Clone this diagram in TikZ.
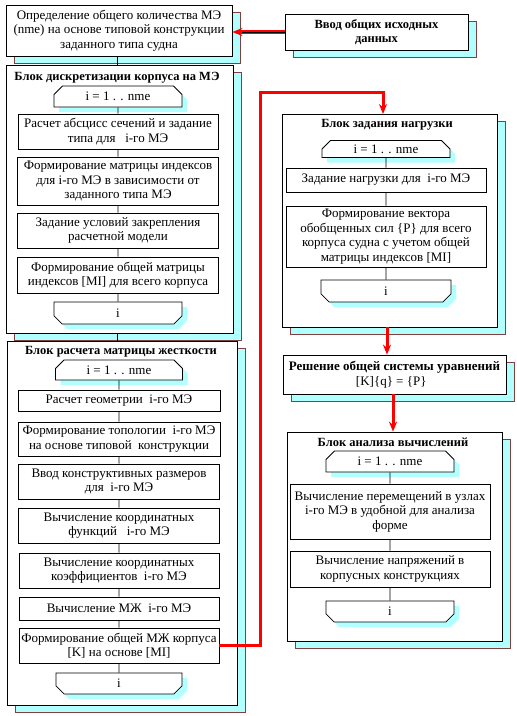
\documentclass[tikz,border=0pt]{standalone}
\usepackage{fontspec}
\setmainfont{Liberation Serif}
\usetikzlibrary{arrows.meta,shapes.misc,shadows}
\definecolor{ShadeClr}{rgb}{0.7,1,1}
\definecolor{ShadeBrd}{rgb}{0.5,0.25,0.25}
\definecolor{FlowClr}{rgb}{1,0,0}

\begin{document}
\begin{tikzpicture}[x=1pt,y=-1pt,
  every node/.style={font=\fontsize{13}{14.5}\selectfont,align=center,inner sep=1pt},
  shbox/.style={draw,fill=white,line width=0.8pt,
    drop shadow={shadow xshift=8pt,shadow yshift=-7pt,fill=ShadeClr,draw=ShadeBrd,opacity=1}},
  opbox/.style={draw,fill=white,line width=0.8pt},
  loopbeg/.style={chamfered rectangle,chamfered rectangle corners={north west,north east},
    chamfered rectangle xsep=8pt,draw,fill=white,line width=0.8pt,
    drop shadow={shadow xshift=5pt,shadow yshift=-5pt,fill=ShadeClr,opacity=1}},
  loopend/.style={loopbeg,chamfered rectangle corners={south west,south east}},
  ttl/.style={font=\fontsize{12.5}{14.5}\selectfont\bfseries},
  conn/.style={line width=0.8pt},
  flow/.style={draw=FlowClr,line width=3pt,-{Stealth[length=10pt,width=8pt]}}]
\useasboundingbox (0,0) rectangle (517,716);

% top boxes
\node[shbox,minimum width=226,minimum height=51] (opr) at (119,30.5)
  {Определение общего количества МЭ\\(nme) на основе типовой конструкции\\заданного типа судна};
\node[shbox,ttl,minimum width=183,minimum height=36] (vvod) at (376.5,32)
  {Ввод общих исходных\\данных};

% block 1
\node[shbox,minimum width=227,minimum height=268] (blk1) at (119.5,199) {};
\node[ttl] (blk1t) at (117,78) {Блок дискретизации корпуса на МЭ};
\node[loopbeg,minimum width=128,minimum height=21] (ls1) at (118,96.5) {i = 1 . . nme};
\node[opbox,minimum width=200,minimum height=35] (b11) at (118,131.5)
  {Расчет абсцисс сечений и задание\\типа для~~~i-го МЭ};
\node[opbox,minimum width=201,minimum height=48] (b12) at (118,181)
  {Формирование матрицы индексов\\для i-го МЭ в зависимости от\\заданного типа МЭ};
\node[opbox,minimum width=201,minimum height=35] (b13) at (118,230.5)
  {Задание условий закрепления\\расчетной модели};
\node[opbox,minimum width=201,minimum height=36] (b14) at (118,275)
  {Формирование общей матрицы\\индексов [МI] для всего корпуса};
\node[loopend,minimum width=128,minimum height=22] (le1) at (118,313) {i};
\draw[conn] (ls1) -- (b11) -- (b12) -- (b13) -- (b14) -- (le1);

% block 2
\node[shbox,minimum width=230,minimum height=364] (blk2) at (122,523) {};
\node[ttl] (blk2t) at (121,352) {Блок расчета матрицы жесткости};
\node[loopbeg,minimum width=127,minimum height=20] (ls2) at (119,370) {i = 1 . . nme};
\node[opbox,minimum width=202,minimum height=21] (b21) at (119,400.5)
  {Расчет геометрии~~i-го МЭ};
\node[opbox,minimum width=202,minimum height=34] (b22) at (119,439)
  {Формирование топологии~~i-го МЭ\\на основе типовой~~конструкции};
\node[opbox,minimum width=201,minimum height=35] (b23) at (119,481.5)
  {Ввод конструктивных размеров\\для~~i-го МЭ};
\node[opbox,minimum width=201,minimum height=35] (b24) at (119,525.5)
  {Вычисление координатных\\функций~~~i-го МЭ};
\node[opbox,minimum width=200,minimum height=35] (b25) at (119,570.5)
  {Вычисление координатных\\коэффициентов~~i-го МЭ};
\node[opbox,minimum width=200,minimum height=23] (b26) at (119,608.5)
  {Вычисление МЖ~~i-го МЭ};
\node[opbox,minimum width=200,minimum height=35] (b27) at (119,645.5)
  {Формирование общей МЖ корпуса\\{}[K] на основе [МI]};
\node[loopend,minimum width=126,minimum height=21] (le2) at (119,683.5) {i};
\draw[conn] (ls2) -- (b21) -- (b22) -- (b23) -- (b24) -- (b25) -- (b26) -- (b27) -- (le2);

\draw[conn] (opr.south -| blk1t) -- (blk1.north -| blk1t);
\draw[conn] (blk1.south -| blk1t) -- (blk2.north -| blk1t);

% block 3 (load)
\node[shbox,minimum width=215,minimum height=213] (rb) at (389.5,220.5) {};
\node[ttl] (rbt) at (387,125) {Блок задания нагрузки};
\node[loopbeg,minimum width=128,minimum height=17] (ls3) at (386,149) {i = 1 . . nme};
\node[opbox,minimum width=200,minimum height=24] (b31) at (386,180)
  {Задание нагрузки для~~i-го МЭ};
\node[opbox,minimum width=200,minimum height=61] (b32) at (386,236.5)
  {Формирование вектора\\обобщенных сил \{P\} для всего\\корпуса судна с учетом общей\\матрицы индексов [МI]};
\node[loopend,minimum width=130,minimum height=22] (le3) at (386,291) {i};
\draw[conn] (ls3) -- (b31) -- (b32) -- (le3);

% solution
\node[shbox,minimum width=223,minimum height=39] (resh) at (394.5,374.5)
  {\textbf{Решение общей системы уравнений}\\{}[K]\{q\} = \{P\}~~~};

% block 4 (analysis)
\node[shbox,minimum width=215,minimum height=209] (blk3) at (394.5,536.5) {};
\node[ttl] (blk3t) at (393,442) {Блок анализа вычислений};
\node[loopbeg,minimum width=128,minimum height=21] (ls4) at (390,461.5) {i = 1 . . nme};
\node[opbox,minimum width=200,minimum height=55] (b41) at (390,511.5)
  {Вычисление перемещений в узлах\\i-го МЭ в удобной для анализа\\форме};
\node[opbox,minimum width=200,minimum height=36] (b42) at (390,569)
  {Вычисление напряжений в\\корпусных конструкциях};
\node[loopend,minimum width=128,minimum height=21] (le4) at (390,611.5) {i};
\draw[conn] (ls4) -- (b41) -- (b42) -- (le4);

% red flow
\coordinate (turn) at (260,92);
\coordinate (rbin) at (383,114);
\draw[flow,line width=3.4pt] (vvod.west) -- (vvod.west -| opr.east);
\draw[line width=0.6pt,shorten >=10pt] (vvod.west) -- (vvod.west -| opr.east);
\draw[flow] (b27.east) -| (turn) -| (rbin);
\draw[flow] (rb.south -| rbt) -- (resh.north -| rbt);
\draw[flow] (resh.south -| blk3t) -- (blk3.north -| blk3t);

\end{tikzpicture}
\end{document}
